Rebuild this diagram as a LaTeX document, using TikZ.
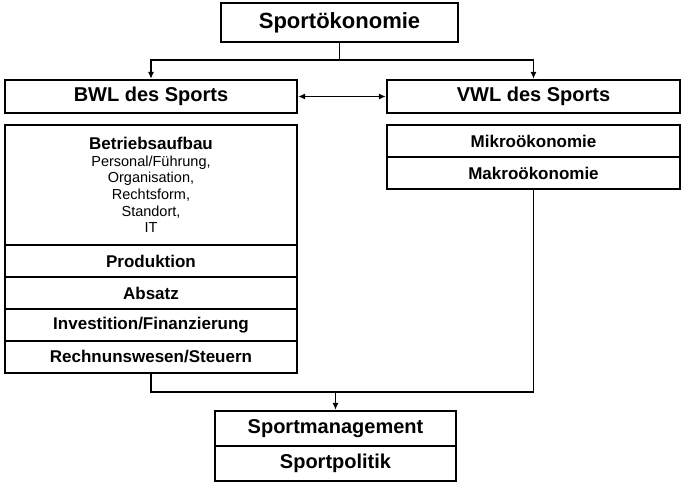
\documentclass[tikz,border=0pt]{standalone}
\usepackage{fontspec}
\setmainfont{Liberation Sans}
\usetikzlibrary{arrows.meta}

\tikzset{
  box/.style={draw,line width=2.2pt,inner sep=0pt,align=center,
    font=\bfseries\fontsize{17}{19}\selectfont},
  bigbox/.style={box,font=\bfseries\fontsize{20}{24}\selectfont},
  line/.style={line width=1.6pt}
}

\begin{document}
\begin{tikzpicture}[x=1pt,y=-1pt,>={Latex[length=7pt,width=6pt]}]

\useasboundingbox (0,0) rectangle (685,483);

% oben
\node[bigbox,minimum width=237pt,minimum height=39pt,
  font=\bfseries\fontsize{22}{26}\selectfont] (oekonomie) at (339.5,22.5) {Sportökonomie};

\node[bigbox,minimum width=292pt,minimum height=33pt] (bwl) at (151,96.5) {BWL des Sports};
\node[bigbox,minimum width=293pt,minimum height=33pt] (vwl) at (533.5,96.5) {VWL des Sports};

% BWL
\node[box,minimum width=292pt,minimum height=120pt,
  font=\fontsize{14.5}{16.7}\selectfont] (betrieb) at (151,185)
  {{\bfseries\fontsize{17}{16.7}\selectfont Betriebsaufbau}\\
   Personal/Führung,\\ Organisation,\\ Rechtsform,\\ Standort,\\ IT};
\node[box,minimum width=292pt,minimum height=32pt] (prod) at (151,261) {Produktion};
\node[box,minimum width=292pt,minimum height=32pt] (absatz) at (151,293) {Absatz};
\node[box,minimum width=292pt,minimum height=32pt] (invest) at (151,325) {Investition/Finanzierung};
\node[box,minimum width=292pt,minimum height=32pt] (rechnung) at (151,357) {Rechnunswesen/Steuern};

% VWL
\node[box,minimum width=293pt,minimum height=32pt] (mikro) at (533.5,141) {Mikroökonomie};
\node[box,minimum width=293pt,minimum height=32pt] (makro) at (533.5,173) {Makroökonomie};

% unten
\node[bigbox,minimum width=241pt,minimum height=35pt] (management) at (335.5,428.5) {Sportmanagement};
\node[bigbox,minimum width=241pt,minimum height=35pt] (politik) at (335.5,463.5) {Sportpolitik};

% Verbindungen
\coordinate (split) at (339.5,60);
\coordinate (merge) at (335.5,392);

\draw[line,->] (oekonomie.south) -- (split) -| (bwl.north);
\draw[line,->] (split) -| (vwl.north);
\draw[line,<->] (bwl.east) -- (vwl.west);

\draw[line] (rechnung.south) |- (merge);
\draw[line] (makro.south) |- (merge);
\draw[line,->] (merge) -- (management.north);

\end{tikzpicture}
\end{document}
